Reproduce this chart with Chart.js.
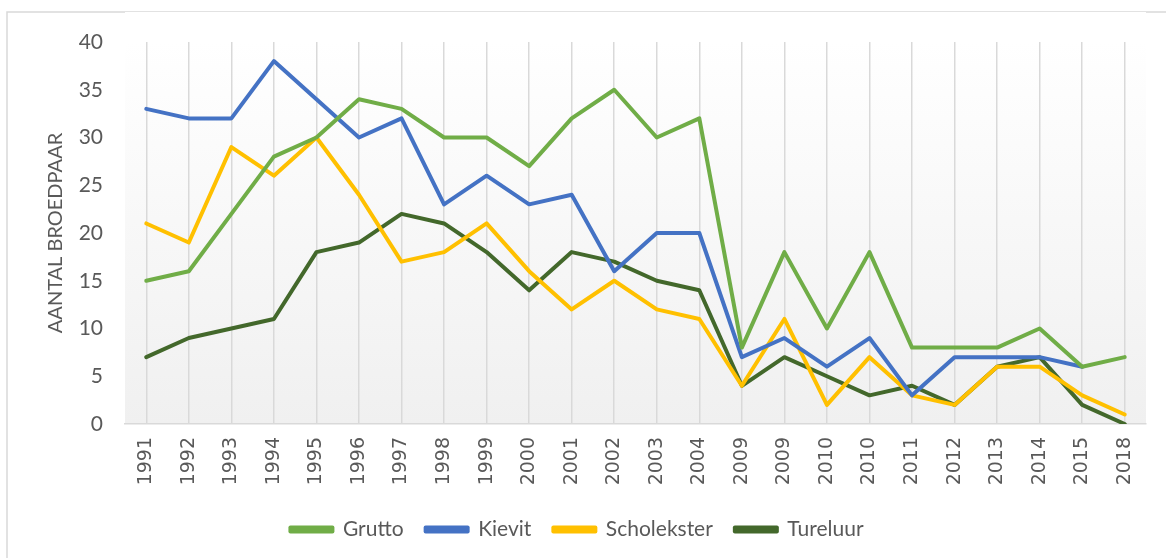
<!DOCTYPE html>
<html>
<head>
<meta charset="utf-8">
<script src="https://cdn.jsdelivr.net/npm/chart.js@4/dist/chart.umd.min.js"></script>
<style>
  html, body { margin: 0; padding: 0; background: #ffffff; }
  #wrap { position: relative; width: 1166px; height: 558px; }
</style>
</head>
<body>
<div id="wrap"><canvas id="c" width="1166" height="558"></canvas></div>
<script>
const categories = ['1991','1992','1993','1994','1995','1996','1997','1998','1999','2000','2001','2002','2003','2004','2009','2009','2010','2010','2011','2012','2013','2014','2015','2018'];
const grutto      = [15,16,22,28,30,34,33,30,30,27,32,35,30,32,8,18,10,18,8,8,8,10,6,7];
const kievit      = [33,32,32,38,34,30,32,23,26,23,24,16,20,20,7,9,6,9,3,7,7,7,6,null];
const scholekster = [21,19,29,26,30,24,17,18,21,16,12,15,12,11,4,11,2,7,3,2,6,6,3,1];
const tureluur    = [7,9,10,11,18,19,22,21,18,14,18,17,15,14,4,7,5,3,4,2,6,7,2,0];
const yTicks = [0,5,10,15,20,25,30,35,40];
const yTitle = 'AANTAL BROEDPAAR';

const frame = {
  id: 'frame',
  beforeDraw(chart) {
    const ctx = chart.ctx, a = chart.chartArea;
    ctx.save();
    ctx.fillStyle = '#ffffff';
    ctx.fillRect(0, 0, chart.width, chart.height);
    ctx.strokeStyle = '#d9d9d9';
    ctx.lineWidth = 1.5;
    ctx.strokeRect(7, 12, 1300, 600);
    const g = ctx.createLinearGradient(0, a.top, 0, a.bottom);
    g.addColorStop(0, '#ffffff');
    g.addColorStop(1, '#f0f0f0');
    ctx.fillStyle = g;
    ctx.fillRect(a.left, a.top - 30, a.right - a.left, a.bottom - a.top + 30);
    ctx.restore();
  }
};

const mk = (label, data, color) => ({
  label, data, borderColor: color, backgroundColor: color,
  borderWidth: 4, pointRadius: 0, pointHoverRadius: 0, tension: 0,
  borderJoinStyle: 'round', borderCapStyle: 'round', spanGaps: false
});

new Chart(document.getElementById('c'), {
  type: 'line',
  data: {
    labels: categories,
    datasets: [
      mk('Grutto', grutto, '#70AD47'),
      mk('Kievit', kievit, '#4472C4'),
      mk('Scholekster', scholekster, '#FFC000'),
      mk('Tureluur', tureluur, '#43682B')
    ]
  },
  options: {
    responsive: false,
    animation: false,
    events: [],
    layout: { padding: { left: 8, right: 20, top: 42, bottom: 8 } },
    plugins: {
      legend: {
        position: 'bottom',
        labels: {
          boxWidth: 42, boxHeight: 4, padding: 22,
          color: '#595959',
          font: { family: 'Lato', size: 21 }
        }
      },
      tooltip: { enabled: false }
    },
    scales: {
      x: {
        offset: true,
        grid: { display: true, offset: false, color: '#d9d9d9', lineWidth: 1.5, drawTicks: false },
        border: { display: true, color: '#d9d9d9', width: 1.5 },
        ticks: {
          color: '#595959', font: { family: 'DejaVu Sans', size: 19 },
          maxRotation: 90, minRotation: 90, autoSkip: false, padding: 13
        },
        afterFit(s) { s.height = 73; }
      },
      y: {
        min: 0, max: 40,
        afterBuildTicks(s) { s.ticks = yTicks.map(v => ({ value: v })); },
        grid: { display: false, drawTicks: false },
        border: { display: false },
        ticks: { color: '#595959', font: { family: 'Lato', size: 21 }, padding: 22 },
        title: {
          display: true, text: yTitle, color: '#595959',
          font: { family: 'Lato', size: 20 }, padding: { top: 36, bottom: 0 }
        },
        afterFit(s) { s.width = 117; }
      }
    }
  },
  plugins: [frame]
});
</script>
</body>
</html>
